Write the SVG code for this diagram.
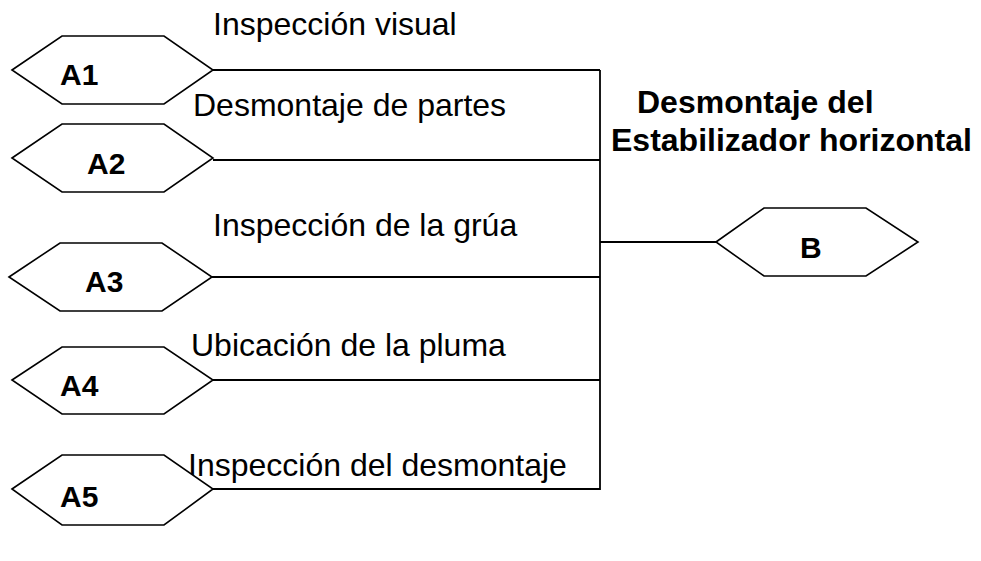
<svg xmlns="http://www.w3.org/2000/svg" width="981" height="561" viewBox="0 0 981 561">
<style>
.hex{fill:#fff;stroke:#000;stroke-width:1.6}
.ln{stroke:#000;stroke-width:1.8;fill:none}
.lab{font-family:"Liberation Sans",Arial,sans-serif;font-size:32px;fill:#000}
.id{font-family:"Liberation Sans",Arial,sans-serif;font-size:30px;font-weight:bold;fill:#000}
.ttl{font-family:"Liberation Sans",Arial,sans-serif;font-size:32px;font-weight:bold;fill:#000}
</style>
<rect width="981" height="561" fill="#fff"/>
<g id="connectors">
<line class="ln" x1="213" y1="70" x2="600" y2="70"/>
<line class="ln" x1="213" y1="160" x2="600" y2="160"/>
<line class="ln" x1="212" y1="277" x2="600" y2="277"/>
<line class="ln" x1="213" y1="380" x2="600" y2="380"/>
<line class="ln" x1="213" y1="489" x2="600" y2="489"/>
<line class="ln" x1="600" y1="70" x2="600" y2="490"/>
<line class="ln" x1="600" y1="242" x2="716" y2="242"/>
</g>
<g id="labels">
<text class="lab" x="213" y="35">Inspección visual</text>
<text class="lab" x="193" y="116">Desmontaje de partes</text>
<text class="lab" x="213" y="236">Inspección de la grúa</text>
<text class="lab" x="191" y="356">Ubicación de la pluma</text>
<text class="lab" x="188" y="476">Inspección del desmontaje</text>
<text class="ttl" x="637" y="113">Desmontaje del</text>
<text class="ttl" x="611" y="151">Estabilizador horizontal</text>
</g>
<g id="A1">
<polygon class="hex" points="12,70 62,36 164,36 213,70 164,104 62,104"/>
<text class="id" x="60" y="85">A1</text>
</g>
<g id="A2">
<polygon class="hex" points="12,158 62,124 164,124 213,158 164,192 62,192"/>
<text class="id" x="87" y="174">A2</text>
</g>
<g id="A3">
<polygon class="hex" points="9,277 60,243 162,243 212,277 162,311 60,311"/>
<text class="id" x="85" y="292">A3</text>
</g>
<g id="A4">
<polygon class="hex" points="12,380 62,347 164,347 213,380 164,414 62,414"/>
<text class="id" x="60" y="396">A4</text>
</g>
<g id="A5">
<polygon class="hex" points="12,489 62,455 164,455 213,489 164,525 62,525"/>
<text class="id" x="60" y="507">A5</text>
</g>
<g id="B">
<polygon class="hex" points="716,242 764,208 866,208 918,242 866,276 764,276"/>
<text class="id" x="800" y="258">B</text>
</g>
</svg>
